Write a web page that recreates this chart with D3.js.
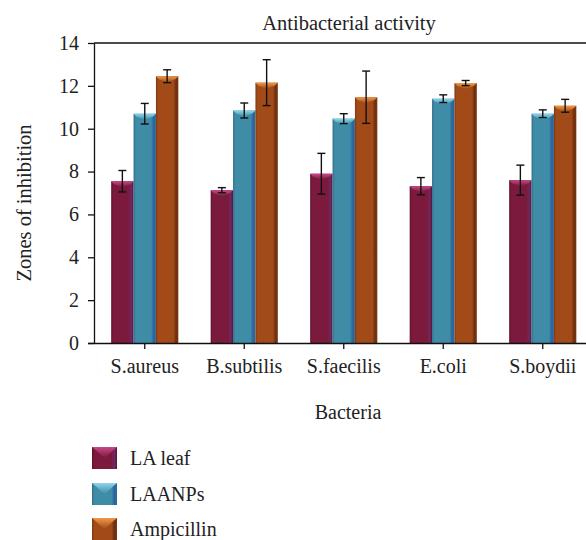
<!DOCTYPE html>
<html>
<head>
<meta charset="utf-8">
<script src="https://cdn.jsdelivr.net/npm/d3@7"></script>
<style>
  html, body { margin: 0; padding: 0; background: #fff; }
  svg { display: block; font-family: "Liberation Serif", "DejaVu Serif", serif; }
</style>
</head>
<body>
<svg id="chart" width="586" height="540"></svg>
<script>
// Zones of inhibition (mm) per bacterium, mean and error
const categories = ["S.aureus", "B.subtilis", "S.faecilis", "E.coli", "S.boydii"];
const seriesNames = ["LA leaf", "LAANPs", "Ampicillin"];
const laLeaf    = [7.55, 7.13, 7.90, 7.32, 7.60];
const laLeafErr = [0.50, 0.12, 0.95, 0.40, 0.70];
const laanps    = [10.70, 10.85, 10.47, 11.40, 10.70];
const laanpsErr = [0.48, 0.35, 0.23, 0.18, 0.18];
const ampicillin    = [12.45, 12.15, 11.47, 12.13, 11.07];
const ampicillinErr = [0.30, 1.07, 1.22, 0.12, 0.30];
const yTicks = [0, 2, 4, 6, 8, 10, 12, 14];

const values = [laLeaf, laanps, ampicillin];
const errors = [laLeafErr, laanpsErr, ampicillinErr];

// bar palette: base, dark edge, right stripe, cap highlight
const palette = [
  { base: "#7b1a3c", dark: "#5e1230", stripe: "#6b2a66", cap: "#c8488a" },
  { base: "#3f8ca7", dark: "#2f6f88", stripe: "#2a62a6", cap: "#8fd4ec" },
  { base: "#a24b19", dark: "#7f3811", stripe: "#6b2e10", cap: "#f09a48" }
];

const FS = 20;
const FONT = "Liberation Serif, DejaVu Serif, serif";

const svg = d3.select("#chart");
const W = 586;
const plot = { left: 94, top: 43, right: 592.5, bottom: 343 };

const x = d3.scaleBand().domain(categories).range([95, plot.right]).paddingInner(0).paddingOuter(0);
const groupFrac = 0.675;
const xs = d3.scaleBand().domain(seriesNames)
  .range([0, x.step() * groupFrac]).padding(0);
const y = d3.scaleLinear().domain([0, 14]).range([plot.bottom, plot.top]);

// gradients for the bevelled bars
const defs = svg.append("defs");
palette.forEach((p, i) => {
  const g = defs.append("linearGradient").attr("id", "bar" + i)
    .attr("x1", 0).attr("x2", 1).attr("y1", 0).attr("y2", 0);
  g.append("stop").attr("offset", "0%").attr("stop-color", p.dark);
  g.append("stop").attr("offset", "10%").attr("stop-color", p.base);
  g.append("stop").attr("offset", "78%").attr("stop-color", p.base);
  g.append("stop").attr("offset", "90%").attr("stop-color", p.stripe);
  g.append("stop").attr("offset", "100%").attr("stop-color", p.dark);
  const c = defs.append("linearGradient").attr("id", "cap" + i)
    .attr("x1", 0).attr("x2", 0).attr("y1", 0).attr("y2", 1);
  c.append("stop").attr("offset", "0%").attr("stop-color", p.cap);
  c.append("stop").attr("offset", "100%").attr("stop-color", p.base);
});

// title
svg.append("text").attr("x", 349).attr("y", 30).attr("text-anchor", "middle")
  .attr("font-size", 20.5).attr("fill", "#222").text("Antibacterial activity");

// top frame line
svg.append("line").attr("x1", plot.left).attr("x2", W).attr("y1", plot.top).attr("y2", plot.top)
  .attr("stroke", "#111").attr("stroke-width", 1.3);

// bars
const offset = (x.bandwidth() - xs.range()[1]) / 2;
const capH = 6;
seriesNames.forEach((s, si) => {
  const g = svg.append("g");
  categories.forEach((c, ci) => {
    const v = values[si][ci];
    const x0 = x(c) + offset + xs(s);
    const w = xs.bandwidth();
    const yt = y(v);
    g.append("rect").attr("x", x0).attr("y", yt).attr("width", w)
      .attr("height", y(0) - yt).attr("fill", "url(#bar" + si + ")");
    g.append("path")
      .attr("d", `M${x0},${yt} L${x0 + w},${yt} L${x0 + w - 3},${yt + capH * 0.5} L${x0 + w / 2},${yt + capH} L${x0 + 3},${yt + capH * 0.5} Z`)
      .attr("fill", "url(#cap" + si + ")");
  });
});

// error bars
seriesNames.forEach((s, si) => {
  categories.forEach((c, ci) => {
    const v = values[si][ci], e = errors[si][ci];
    const cx = x(c) + offset + xs(s) + xs.bandwidth() / 2;
    const g = svg.append("g").attr("stroke", "#111").attr("stroke-width", 1.4);
    g.append("line").attr("x1", cx).attr("x2", cx).attr("y1", y(v + e)).attr("y2", y(v - e));
    g.append("line").attr("x1", cx - 4).attr("x2", cx + 4).attr("y1", y(v + e)).attr("y2", y(v + e));
    g.append("line").attr("x1", cx - 4).attr("x2", cx + 4).attr("y1", y(v - e)).attr("y2", y(v - e));
  });
});

// y axis
const yAxis = svg.append("g").attr("transform", `translate(${plot.left},0)`)
  .call(d3.axisLeft(y).tickValues(yTicks).tickSize(6).tickPadding(9).tickSizeOuter(0));
yAxis.select(".domain").attr("stroke", "#111").attr("stroke-width", 1.3);
yAxis.selectAll(".tick line").attr("stroke", "#111").attr("stroke-width", 1.3);
yAxis.selectAll("text").attr("font-size", FS).attr("fill", "#222").attr("font-family", FONT);

// x axis
const xAxis = svg.append("g").attr("transform", `translate(0,${plot.bottom})`)
  .call(d3.axisBottom(x).tickSize(6).tickPadding(10).tickSizeOuter(0));
xAxis.select(".domain").attr("d", `M${plot.left - 6},0.5H${W}`)
  .attr("stroke", "#111").attr("stroke-width", 1.3);
xAxis.selectAll(".tick line").attr("stroke", "#111").attr("stroke-width", 1.3);
xAxis.selectAll("text").attr("font-size", FS).attr("fill", "#222").attr("font-family", FONT);

// axis titles
svg.append("text").attr("transform", "translate(31,203) rotate(-90)")
  .attr("text-anchor", "middle").attr("font-size", 20.5).attr("fill", "#222")
  .text("Zones of inhibition");
svg.append("text").attr("x", 348).attr("y", 419).attr("text-anchor", "middle")
  .attr("font-size", FS).attr("fill", "#222").text("Bacteria");

// legend
const legendY = [447, 483, 518];
seriesNames.forEach((s, i) => {
  const g = svg.append("g").attr("transform", `translate(92,${legendY[i]})`);
  g.append("rect").attr("width", 25).attr("height", 22).attr("fill", "url(#bar" + i + ")");
  g.append("path").attr("d", "M0,0 L25,0 L12.5,11 Z").attr("fill", "url(#cap" + i + ")");
  g.append("text").attr("x", 38).attr("y", 17.5).attr("font-size", FS).attr("fill", "#222").text(s);
});
</script>
</body>
</html>
